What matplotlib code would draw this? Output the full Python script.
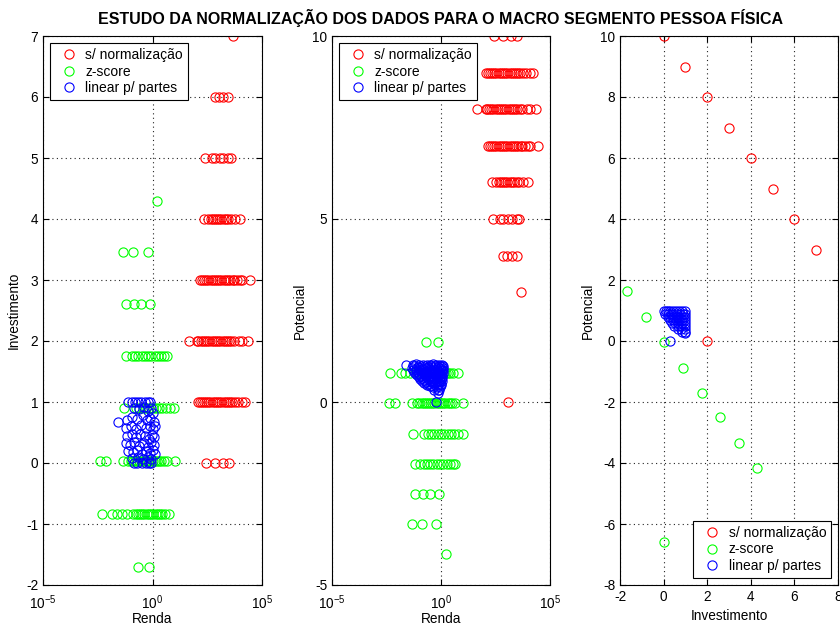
import matplotlib
matplotlib.use("Agg")
import matplotlib.pyplot as plt
from matplotlib.ticker import NullLocator

plt.rcParams['font.family'] = ['Liberation Sans', 'DejaVu Sans']
plt.rcParams['axes.unicode_minus'] = False

# dados sem normalização: renda de cada cliente, agrupada por nível de investimento
inv_levels = [0, 1, 2, 3, 4, 5, 6, 7]
pot_levels = [10, 9, 8, 7, 6, 5, 4, 3]
renda_raw = [
    [270, 680, 1580, 3160],
    [117, 140, 180, 220, 280, 350, 440, 550, 700, 880, 1100, 1400, 1750,
     2200, 2800, 3500, 4400, 5900, 8300, 11700, 17000],
    [47, 112, 126, 160, 200, 250, 320, 400, 500, 630, 800, 1000, 1260, 1600,
     2000, 2500, 3200, 4000, 5200, 8900, 12600, 24000],
    [140, 178, 224, 280, 350, 450, 560, 710, 890, 1120, 1410, 1780, 2240,
     2820, 3550, 4500, 5000, 7100, 10000, 12000, 28000],
    [225, 330, 450, 560, 710, 890, 1120, 1410, 1780, 2240, 2950, 3900, 5900, 10000],
    [250, 510, 720, 1230, 1740, 2950, 3900],
    [720, 1100, 1740, 2950],
    [4800],
]
# cliente com potencial 0
out_renda = [1180]
out_inv = [2]
out_pot = [0]

# z-score
z_inv_levels = [-1.70, -0.83, 0.03, 0.90, 1.75, 2.61, 3.46, 4.30]
z_pot_levels = [1.63, 0.79, -0.03, -0.87, -1.69, -2.50, -3.33, -4.15]
z_renda = [
    [0.21, 0.71],
    [0.0048, 0.014, 0.023, 0.039, 0.066, 0.13, 0.17, 0.21, 0.27, 0.34, 0.43,
     0.54, 0.68, 0.86, 1.1, 1.4, 1.75, 2.2, 2.6, 3.7, 5.9],
    [0.004, 0.0076, 0.047, 0.08, 0.1, 0.13, 0.16, 0.2, 0.25, 0.32, 0.4, 0.5,
     0.63, 0.8, 1.0, 1.25, 1.6, 2.0, 2.5, 3.2, 4.5, 10.7],
    [0.05, 0.17, 0.25, 0.35, 0.5, 0.7, 1.0, 1.4, 2.0, 2.8, 4.0, 6.3, 10.0],
    [0.063, 0.11, 0.16, 0.22, 0.32, 0.45, 0.63, 0.89, 1.26, 1.8, 2.5, 3.5, 4.5],
    [0.062, 0.145, 0.3, 0.78],
    [0.045, 0.13, 0.6],
    [1.66],
]
z_out_inv = [0.03]
z_out_pot = [-6.6]

# linear por partes
lin1_renda = [0.08, 0.12, 0.16, 0.22, 0.3, 0.45, 0.6, 0.8,
              0.14, 0.2, 0.33, 0.5, 0.7, 0.9,
              0.028,
              0.15, 0.25, 0.4, 0.6, 0.9, 1.1,
              0.07, 0.12, 0.2, 0.35, 0.55, 0.8, 1.2,
              0.06, 0.1, 0.18, 0.3, 0.5, 0.75, 1.0, 1.25,
              0.065, 0.11, 0.17, 0.28, 0.45, 0.7, 0.95, 1.2,
              0.06, 0.09, 0.15, 0.25, 0.4, 0.6, 0.85, 1.15,
              0.08, 0.13, 0.2, 0.32, 0.5, 0.75, 1.05, 1.25,
              0.12, 0.22, 0.38, 0.6, 0.9]
lin1_inv = [1.0, 1.0, 1.0, 1.0, 1.0, 1.0, 1.0, 1.0,
            0.0, 0.0, 0.0, 0.0, 0.0, 0.0,
            0.68,
            0.9, 0.88, 0.92, 0.85, 0.9, 0.82,
            0.7, 0.75, 0.72, 0.78, 0.7, 0.74, 0.68,
            0.58, 0.6, 0.55, 0.62, 0.57, 0.6, 0.55, 0.6,
            0.45, 0.48, 0.42, 0.47, 0.44, 0.4, 0.46, 0.42,
            0.33, 0.3, 0.35, 0.28, 0.32, 0.27, 0.34, 0.3,
            0.2, 0.18, 0.22, 0.15, 0.2, 0.17, 0.22, 0.14,
            0.08, 0.1, 0.06, 0.1, 0.07]

lin2_renda = [0.025, 0.05, 0.07, 0.1, 0.15, 0.22, 0.3, 0.42, 0.6, 0.85, 1.1,
              0.055, 0.085, 0.12, 0.18, 0.26, 0.36, 0.52, 0.75, 1.0, 1.22,
              0.045, 0.07, 0.1, 0.14, 0.2, 0.3, 0.45, 0.65, 0.9, 1.2,
              0.05, 0.075, 0.11, 0.16, 0.24, 0.34, 0.5, 0.72, 1.0, 1.25,
              0.06, 0.09, 0.13, 0.19, 0.28, 0.4, 0.6, 0.85, 1.15,
              0.07, 0.1, 0.15, 0.22, 0.33, 0.48, 0.7, 0.95, 1.2,
              0.08, 0.12, 0.18, 0.27, 0.4, 0.58, 0.82, 1.1,
              0.1, 0.14, 0.21, 0.32, 0.46, 0.66, 0.92, 1.15,
              0.11, 0.16, 0.25, 0.38, 0.55, 0.8, 1.05,
              0.14, 0.2, 0.3, 0.45, 0.64, 0.88, 1.1,
              0.17, 0.25, 0.37, 0.55, 0.78, 1.0,
              0.24, 0.35, 0.5, 0.7, 0.95,
              0.3, 0.45, 0.65, 0.9,
              0.5, 0.7, 0.85,
              0.75,
              0.58]
lin2_pot = [1.02, 1.0, 1.03, 1.01, 1.0, 1.02, 1.0, 1.03, 1.01, 1.02, 1.0,
            0.97, 0.96, 0.98, 0.97, 0.96, 0.98, 0.97, 0.96, 0.98, 0.97,
            0.93, 0.9, 0.94, 0.91, 0.92, 0.9, 0.93, 0.91, 0.94, 0.92,
            0.87, 0.86, 0.88, 0.87, 0.86, 0.88, 0.87, 0.86, 0.88, 0.87,
            0.83, 0.8, 0.84, 0.81, 0.82, 0.8, 0.83, 0.81, 0.84,
            0.77, 0.76, 0.78, 0.77, 0.76, 0.78, 0.77, 0.76, 0.78,
            0.73, 0.7, 0.74, 0.71, 0.72, 0.7, 0.73, 0.71,
            0.67, 0.66, 0.68, 0.67, 0.66, 0.68, 0.67, 0.66,
            0.63, 0.6, 0.64, 0.61, 0.62, 0.6, 0.63,
            0.57, 0.56, 0.58, 0.57, 0.56, 0.58, 0.57,
            0.53, 0.5, 0.54, 0.51, 0.52, 0.5,
            0.47, 0.46, 0.48, 0.47, 0.46,
            0.43, 0.41, 0.42, 0.4,
            0.34, 0.32, 0.33,
            0.25,
            0.0]

lin3_inv = [0.0, 0.1, 0.2, 0.3, 0.45, 0.55, 0.7, 0.85, 1.0,
            0.08, 0.2, 0.32, 0.45, 0.6, 0.75, 0.9, 1.0,
            0.18, 0.3, 0.45, 0.6, 0.75, 0.9, 1.0,
            0.28, 0.42, 0.56, 0.7, 0.85, 1.0,
            0.38, 0.52, 0.68, 0.84, 1.0,
            0.48, 0.64, 0.82, 1.0,
            0.65, 0.82, 1.0,
            0.85, 1.0,
            1.0,
            0.3]
lin3_pot = [1.0, 1.0, 1.0, 1.0, 1.0, 1.0, 1.0, 1.0, 1.0,
            0.9, 0.9, 0.9, 0.9, 0.9, 0.9, 0.9, 0.9,
            0.8, 0.8, 0.8, 0.8, 0.8, 0.8, 0.8,
            0.7, 0.7, 0.7, 0.7, 0.7, 0.7,
            0.6, 0.6, 0.6, 0.6, 0.6,
            0.5, 0.5, 0.5, 0.5,
            0.4, 0.4, 0.4,
            0.3, 0.3,
            0.25,
            0.0]

labels = ["s/ normalização", "z-score", "linear p/ partes"]
colors = ["#ff0000", "#00ff00", "#0000ff"]


def flatten(levels, groups):
    xs, ys = [], []
    for lv, g in zip(levels, groups):
        xs += g
        ys += [lv] * len(g)
    return xs, ys


raw1_x, raw1_y = flatten(inv_levels, renda_raw)
raw2_x, raw2_y = flatten(pot_levels, renda_raw)
z1_x, z1_y = flatten(z_inv_levels, z_renda)
z2_x, z2_y = flatten(z_pot_levels, z_renda)

fig = plt.figure(figsize=(8.4, 6.28), dpi=100)
W, H = 840, 628


def make_ax(left, right, top=36, bottom=585):
    return fig.add_axes([left / W, 1 - bottom / H, (right - left) / W, (bottom - top) / H])


ax1 = make_ax(43, 262)
ax2 = make_ax(332, 550)
ax3 = make_ax(620, 838)

mk = dict(marker='o', ls='none', mfc='none', ms=6.6, mew=0.8)

series = [
    (ax1, [(raw1_x, raw1_y), (z1_x, z1_y), (lin1_renda, lin1_inv)]),
    (ax2, [(raw2_x + out_renda, raw2_y + out_pot), (z2_x, z2_y), (lin2_renda, lin2_pot)]),
    (ax3, [(inv_levels + out_inv, pot_levels + out_pot),
           (z_inv_levels + z_out_inv, z_pot_levels + z_out_pot),
           (lin3_inv, lin3_pot)]),
]
for ax, data in series:
    for (x, y), c, lab in zip(data, colors, labels):
        ax.plot(x, y, mec=c, label=lab, **mk)

for ax in (ax1, ax2):
    ax.set_xscale('log')
    ax.set_xlim(1e-5, 1e5)
    ax.set_xticks([1e-5, 1e0, 1e5])
    ax.xaxis.set_minor_locator(NullLocator())
    ax.set_xlabel("Renda", labelpad=0)

ax1.set_ylim(-2, 7)
ax1.set_yticks(range(-2, 8))
ax1.set_ylabel("Investimento")

ax2.set_ylim(-5, 10)
ax2.set_yticks([-5, 0, 5, 10])
ax2.set_ylabel("Potencial")

ax3.set_xlim(-2, 8)
ax3.set_xticks(range(-2, 9, 2))
ax3.set_ylim(-8, 10)
ax3.set_yticks(range(-8, 11, 2))
ax3.set_xlabel("Investimento")
ax3.set_ylabel("Potencial")

for ax in (ax1, ax2, ax3):
    ax.grid(True, color='#222222', linestyle=(0, (1, 3)), linewidth=0.8)
    ax.tick_params(direction='in', top=True, right=True, labelsize=9.8, length=4)
    ax.xaxis.label.set_size(9.8)
    ax.yaxis.label.set_size(9.8)
    for s in ax.spines.values():
        s.set_linewidth(0.8)
for ax in (ax1, ax2):
    ax.tick_params(axis='x', pad=6)

leg_kw = dict(fontsize=10, fancybox=False, edgecolor='black', framealpha=1,
              borderpad=0.35, handlelength=2.0, handletextpad=0.2,
              labelspacing=0.2, numpoints=1, borderaxespad=0.5)
for ax in (ax1, ax2):
    ax.legend(loc='upper left', **leg_kw).get_frame().set_linewidth(0.8)
ax3.legend(loc='lower right', **leg_kw).get_frame().set_linewidth(0.8)

fig.text(0.524, 0.971, "ESTUDO DA NORMALIZAÇÃO DOS DADOS PARA O MACRO SEGMENTO PESSOA FÍSICA",
         ha='center', va='center', fontweight='bold', fontsize=11.5)

fig.savefig("out.png", dpi=100)
